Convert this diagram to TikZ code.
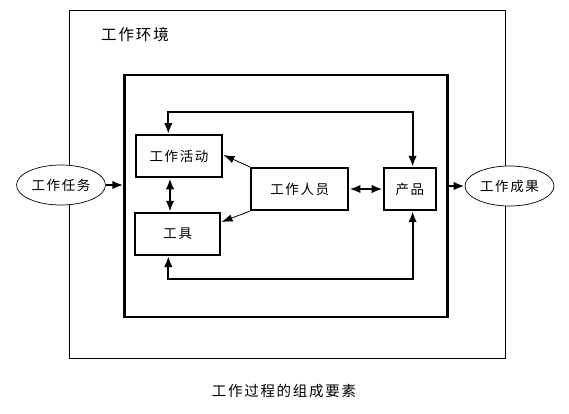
\documentclass[tikz,border=0pt]{standalone}
\usepackage{fontspec}
\setmainfont{Noto Sans CJK SC}[LetterSpace=12]
\usetikzlibrary{arrows.meta,shapes.geometric,positioning}

\begin{document}
\begin{tikzpicture}[
        x=1pt, y=-1pt,
        font=\fontsize{13.5}{16}\selectfont,
        frame/.style={draw, line width=1.4pt, inner sep=0pt},
        box/.style={draw, line width=2.2pt, inner sep=0pt, fill=white, minimum height=42pt},
        oval/.style={draw, ellipse, line width=0.7pt, fill=white, inner sep=0pt, minimum width=89pt, minimum height=40pt},
        link/.style={draw, line width=2.2pt, arrows={Latex[length=11pt,width=8.5pt]-Latex[length=11pt,width=8.5pt]}},
        flow/.style={draw, line width=2.2pt, arrows={-Latex[length=11pt,width=8.5pt]}},
        hint/.style={draw, line width=0.8pt, arrows={-Latex[length=11pt,width=7.5pt]}},
    ]
    \useasboundingbox (0,0) rectangle (569,414);
    \node[frame, minimum width=436pt, minimum height=348pt](env) at (287.3,184.5){};
    \node[frame, line width=2.4pt, minimum width=323pt, minimum height=242pt](inner) at (286.1,195.9){};
    \node[font=\fontsize{15.5}{18}\selectfont](envname) at (135,35){工作环境};
    \node[box, minimum width=86.6pt](act) at (179,156.2){工作活动};
    \node[box, minimum width=85.3pt](tool) at (177.7,233.9){工具};
    \node[box, minimum width=97.3pt](staff) at (299.7,189){工作人员};
    \node[box, minimum width=52.3pt](prod) at (409.9,189){产品};
    \node[oval](task) at (61,185){工作任务};
    \node[oval](result) at (509.5,186){工作成果};
    \node[font=\fontsize{14.5}{17}\selectfont](caption) at (284,391){工作过程的组成要素};
    \coordinate (tl) at (168.3,111.7);
    \coordinate (tr) at (412.6,111.7);
    \coordinate (bl) at (168.3,278.7);
    \coordinate (br) at (412.6,278.7);
    \draw[link] (act.north -| tl) -- (tl) -- (tr) -- (prod.north -| tr);
    \draw[link] (tool.south -| bl) -- (bl) -- (br) -- (prod.south -| br);
    \draw[link] (act.south -| 170,0) -- (tool.north -| 170,0);
    \draw[link] (staff) -- (prod);
    \draw[hint] (staff.north west) -- (act.east |- 0,155);
    \draw[hint] (staff.south west) -- (tool.east |- 0,222);
    \draw[flow] (task) -- (task -| inner.west);
    \draw[flow] (result -| inner.east) -- (result);
\end{tikzpicture}
\end{document}
